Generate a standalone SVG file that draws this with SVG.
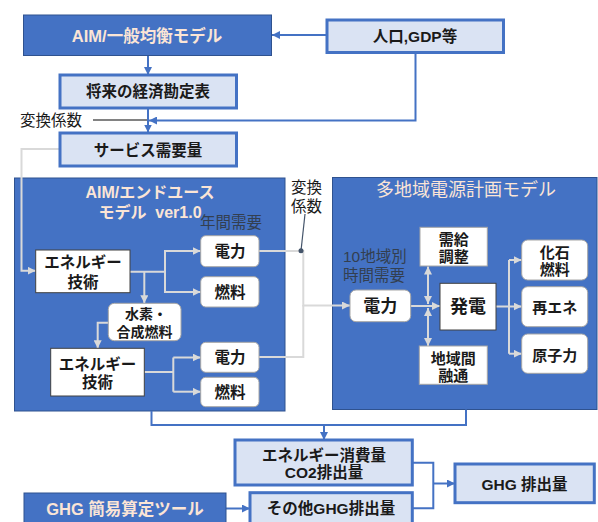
<svg xmlns="http://www.w3.org/2000/svg" width="598" height="522" viewBox="0 0 598 522">
<defs>
<marker id="ab" markerUnits="userSpaceOnUse" markerWidth="9" markerHeight="8" refX="8" refY="4" orient="auto-start-reverse"><path d="M0,0 L8,4 L0,8 z" fill="#4472C4"/></marker>
<marker id="ag" markerUnits="userSpaceOnUse" markerWidth="9" markerHeight="8" refX="8" refY="4" orient="auto-start-reverse"><path d="M0,0 L8,4 L0,8 z" fill="#D9D9D9"/></marker>
</defs>
<style>
text{font-family:"Liberation Sans","Noto Sans CJK JP",sans-serif;font-size:15.5px;fill:#1a1a1a;text-anchor:middle}
.b{font-weight:bold}
.lt{fill:#FBE5D6}
.sm{fill:#333F50;text-anchor:start}
.l{text-anchor:start}
.f14{font-size:14px}
.f15{font-size:15px}
.f16{font-size:16px}
.f165{font-size:16.5px}
.f17{font-size:17px}
.f18{font-size:18px}
.blue{fill:#4472C4;stroke:#2F528F;stroke-width:1}
.lb{fill:#DAE3F3;stroke:#4472C4;stroke-width:3}
.wr{fill:#fff;stroke:#A6A6A6;stroke-width:1}
.ws{fill:#fff;stroke:#404040;stroke-width:1}
.cb{fill:none;stroke:#4472C4;stroke-width:2}
.cg{fill:none;stroke:#D9D9D9;stroke-width:2}
</style>
<g id="aim-container"><rect class="blue" x="14.5" y="178" width="270.5" height="233"/>
<text class="b lt f16" x="150" y="197.5">AIM/エンドユース</text>
<text class="b lt f16" x="150" y="217.5" xml:space="preserve">モデル  ver1.0</text>
<text class="sm" x="200" y="228">年間需要</text></g>
<g id="multi-container"><rect class="blue" x="332.5" y="177.5" width="264.5" height="232"/>
<text class="lt f18" x="466" y="196">多地域電源計画モデル</text>
<text class="sm" x="343" y="262">10地域別</text>
<text class="sm" x="343" y="280.5">時間需要</text></g>

<g id="connectors">
<path class="cb" d="M326.7,35 H272" marker-end="url(#ab)"/>
<path class="cb" d="M148,55.7 V75" marker-end="url(#ab)"/>
<path class="cb" d="M415.5,52.7 V120.5 H149" marker-end="url(#ab)"/>
<path d="M93,120 H148" stroke="#595959" stroke-width="1.3" fill="none"/>
<path class="cb" d="M148,108.3 V132.5" marker-end="url(#ab)"/>
<path class="cb" d="M151.5,411 V425 H466 V409.5"/>
<path class="cb" d="M324,425 V440" marker-end="url(#ab)"/>
<path class="cb" d="M226,508.5 H250" marker-end="url(#ab)"/>
<path class="cb" d="M412.3,462.7 H433.3 V508.3 H412.3"/>
<path class="cb" d="M433.3,483.5 H455" marker-end="url(#ab)"/>
<path class="cg" d="M60,149 H21.5 V270.7 H35.7" marker-end="url(#ag)"/>
<path class="cg" d="M130,271.7 H165 M165,250 V293"/>
<path class="cg" d="M165,251 H200.7" marker-end="url(#ag)"/>
<path class="cg" d="M165,292 H200.7" marker-end="url(#ag)"/>
<path class="cg" d="M144.3,271.7 V303.3" marker-end="url(#ag)"/>
<path class="cg" d="M108.3,322.7 H97.7 V348.3" marker-end="url(#ag)"/>
<path class="cg" d="M144.3,372 H173.3 M173.3,357.5 V391.7"/>
<path class="cg" d="M173.3,357.5 H200.7" marker-end="url(#ag)"/>
<path class="cg" d="M173.3,391.7 H200.7" marker-end="url(#ag)"/>
<path class="cg" d="M259,251 H303.3 V305.5 H350" marker-end="url(#ag)"/>
<path class="cg" d="M259,357 H303.3 V305"/>
<path class="cg" d="M410.7,306 H440" marker-end="url(#ag)"/>
<path class="cg" d="M428,266.5 V304" marker-start="url(#ag)" marker-end="url(#ag)"/>
<path class="cg" d="M428,308 V346" marker-start="url(#ag)" marker-end="url(#ag)"/>
<path class="cg" d="M496,306.5 H509 M509,260 V353.7"/>
<path class="cg" d="M509,260 H521.7" marker-end="url(#ag)"/>
<path class="cg" d="M509,306.5 H521.7" marker-end="url(#ag)"/>
<path class="cg" d="M509,353.7 H521.7" marker-end="url(#ag)"/>
<path d="M305,214 L301,250.7" stroke="#44546A" stroke-width="1.2" fill="none"/>
<circle cx="301" cy="250.7" r="2.5" fill="#44546A"/>
</g>

<g id="aim-cge"><rect class="blue" x="23.5" y="15" width="248" height="40.5"/><text class="b lt f165" x="147" y="41.5">AIM/一般均衡モデル</text></g>
<g id="population"><rect class="lb" x="327" y="20" width="176.5" height="32.5"/><text class="b" x="415" y="41.5">人口,GDP等</text></g>
<g id="future-accounts"><rect class="lb" x="60" y="75" width="176.5" height="33"/><text class="b" x="148" y="97">将来の経済勘定表</text></g>
<text class="l" x="20" y="125.5">変換係数</text>
<g id="service-demand"><rect class="lb" x="60" y="133" width="176.5" height="33"/><text class="b" x="148" y="155.5">サービス需要量</text></g>
<text class="l" x="291" y="193">変換</text>
<text class="l" x="291" y="211.5">係数</text>

<g id="etech1"><rect class="ws" x="35.7" y="250" width="94.3" height="42.7"/><text class="b" x="83" y="267.5">エネルギー</text><text class="b" x="83" y="288">技術</text></g>
<g id="elec1"><rect class="wr" x="200.7" y="235.7" width="58.3" height="31" rx="5"/><text class="b" x="230" y="257">電力</text></g>
<g id="fuel1"><rect class="wr" x="200.7" y="276.7" width="58.3" height="30.3" rx="5"/><text class="b" x="230" y="297.5">燃料</text></g>
<g id="hydrogen"><rect class="wr" x="108.3" y="303.3" width="72.7" height="37.4" rx="6"/><text class="b f14" x="146" y="319">水素・</text><text class="b f14" x="144.5" y="337">合成燃料</text></g>
<g id="etech2"><rect class="ws" x="50.7" y="348.3" width="93.6" height="47.7"/><text class="b" x="97.5" y="370">エネルギー</text><text class="b" x="97.5" y="388">技術</text></g>
<g id="elec2"><rect class="wr" x="200.7" y="342.3" width="58.3" height="30" rx="5"/><text class="b" x="230" y="363">電力</text></g>
<g id="fuel2"><rect class="wr" x="200.7" y="377.3" width="58.3" height="29.4" rx="5"/><text class="b" x="230" y="398">燃料</text></g>

<g id="elecR"><rect class="wr" x="350" y="290" width="60.7" height="31.7" rx="6"/><text class="b f17" x="380.3" y="312">電力</text></g>
<g id="generation"><rect class="ws" x="440" y="283.3" width="56" height="46.7"/><text class="b f18" x="468" y="312.5">発電</text></g>
<g id="balance"><rect class="wr" x="420" y="227.3" width="67.3" height="38.7"/><text class="b f15" x="453.7" y="245">需給</text><text class="b f15" x="453.7" y="261.5">調整</text></g>
<g id="interregional"><rect class="wr" x="419.3" y="346" width="68" height="38.3"/><text class="b f15" x="453.3" y="364">地域間</text><text class="b f15" x="453.3" y="380.5">融通</text></g>
<g id="fossil"><rect class="wr" x="521.7" y="240" width="66" height="40" rx="6"/><text class="b f15" x="554.7" y="257.5">化石</text><text class="b f15" x="554.7" y="274.5">燃料</text></g>
<g id="renewable"><rect class="wr" x="521.7" y="286.7" width="66" height="40" rx="6"/><text class="b f15" x="554.7" y="313">再エネ</text></g>
<g id="nuclear"><rect class="wr" x="521.7" y="334" width="66" height="39.3" rx="6"/><text class="b f15" x="554.7" y="360.5">原子力</text></g>

<g id="energy-co2"><rect class="lb" x="235" y="440" width="177.3" height="45"/><text class="b" x="324" y="460.5">エネルギー消費量</text><text class="b" x="324" y="478">CO2排出量</text></g>
<g id="other-ghg"><rect class="lb" x="250" y="492.7" width="162.3" height="40"/><text class="b" x="331" y="514">その他GHG排出量</text></g>
<g id="ghg-tool"><rect class="blue" x="24" y="493" width="202" height="40"/><text class="b lt f165" x="125" y="514.5">GHG 簡易算定ツール</text></g>
<g id="ghg-total"><rect class="lb" x="455" y="464" width="139.3" height="38.7"/><text class="b" x="524.5" y="489.5">GHG 排出量</text></g>
</svg>
